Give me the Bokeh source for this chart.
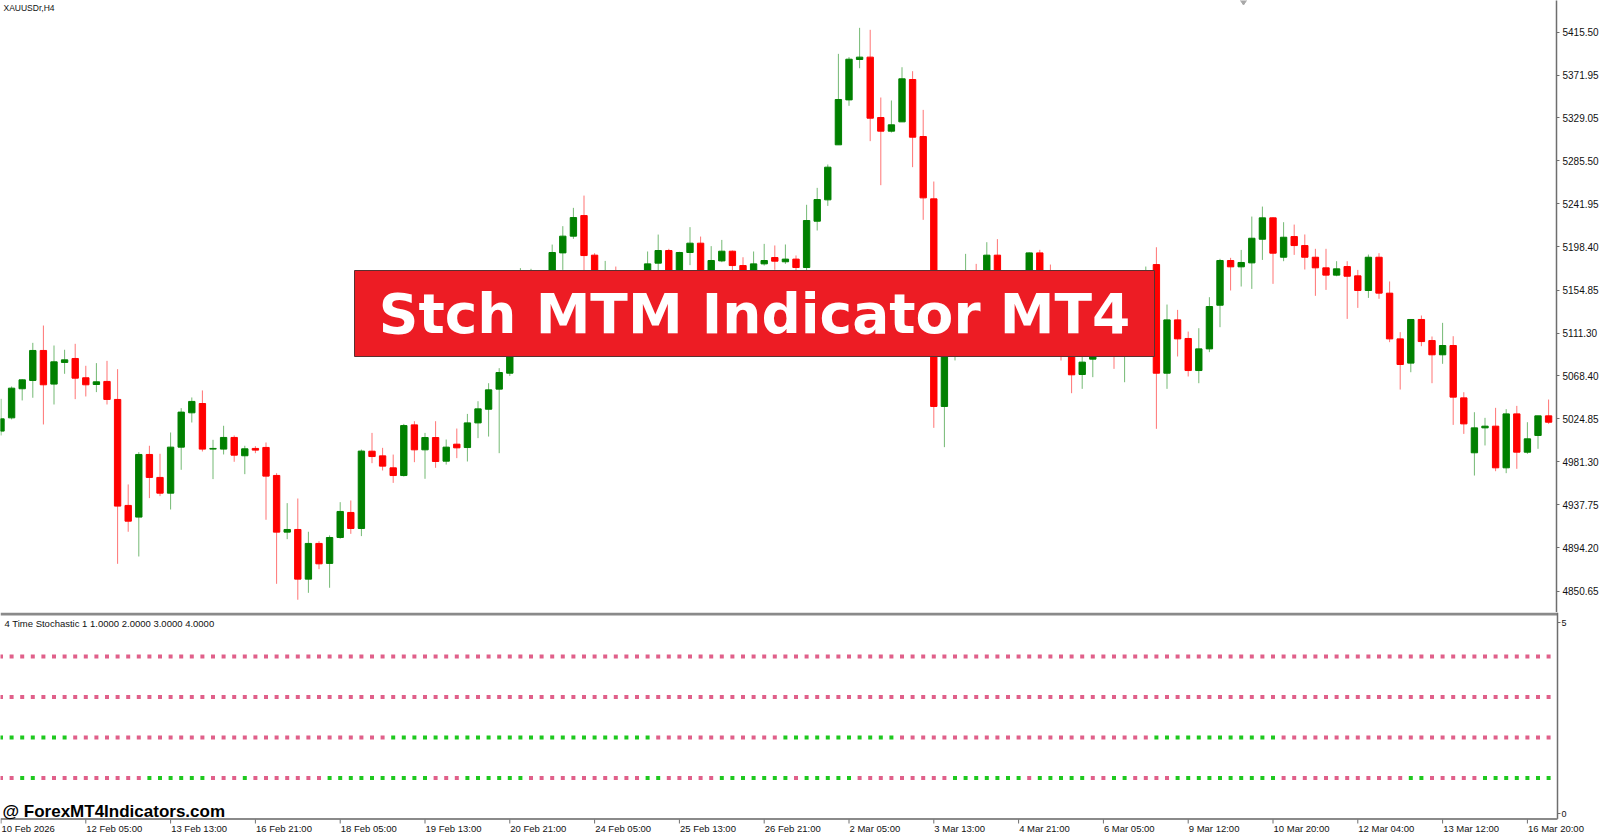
import numpy as np
from bokeh.plotting import figure
from bokeh.layouts import column
from bokeh.models import (Range1d, LinearAxis, FixedTicker, PrintfTickFormatter,
                          BoxAnnotation, Label, ColumnDataSource)
from bokeh.embed import file_html
from bokeh.resources import INLINE

# ---------------- data (XAUUSDr, H4) ----------------
opens = [5012.3, 5025.7, 5055.1, 5063.5, 5093.8, 5059.8, 5081.7, 5085.7, 5066.2, 5059.4,
         5062.5, 5044.3, 4937.2, 4925.4, 4988.7, 4965.5, 4949.6, 4996.1, 5030.8, 5040.2,
         4994.1, 4994.1, 5005.9, 4987.4, 4994.8, 4995.8, 4967.5, 4910.2, 4912.9, 4862.7,
         4898.8, 4878.6, 4904.8, 4930.1, 4913.9, 4992.0, 4987.3, 4975.2, 4967.4, 5018.6,
         4993.4, 5005.8, 4981.9, 4999.1, 4995.7, 5020.6, 5034.4, 5054.7, 5070.8, 5098.0,
         5150.0, 5160.0, 5158.0, 5192.4, 5209.3, 5230.1, 5190.1, 5165.0, 5172.0, 5160.0,
         5168.0, 5165.0, 5182.0, 5194.8, 5172.0, 5192.8, 5202.2, 5168.0, 5184.3, 5194.1,
         5179.6, 5174.0, 5181.3, 5187.7, 5183.4, 5186.1, 5177.6, 5224.4, 5246.0, 5301.6,
         5347.0, 5387.8, 5390.2, 5329.2, 5315.4, 5324.8, 5367.6, 5310.0, 5247.0, 5037.2,
         5102.0, 5125.0, 5165.0, 5160.0, 5190.1, 5168.0, 5160.0, 5170.0, 5192.4, 5170.0,
         5140.0, 5095.0, 5069.5, 5085.0, 5105.0, 5118.0, 5100.0, 5130.0, 5158.0, 5180.6,
         5070.8, 5124.7, 5105.9, 5073.5, 5095.4, 5139.5, 5184.7, 5178.3, 5182.3, 5206.2,
         5227.8, 5188.0, 5208.9, 5199.8, 5188.0, 5177.3, 5169.9, 5178.6, 5169.2, 5154.4,
         5188.0, 5151.7, 5105.5, 5081.0, 5125.1, 5103.8, 5089.4, 5098.8, 5045.9, 4990.4,
         5015.6, 5017.3, 4975.2, 5029.7, 4991.0, 5007.9, 5027.7]
highs = [5044.9, 5057.4, 5064.8, 5101.5, 5119.0, 5098.8, 5094.5, 5100.5, 5078.3, 5081.0,
         5083.3, 5074.9, 4958.4, 4991.1, 4997.5, 4989.4, 5010.9, 5035.5, 5046.3, 5053.4,
         5003.5, 5017.7, 5007.9, 4997.5, 4997.1, 5000.8, 4969.8, 4939.5, 4944.2, 4910.6,
         4901.1, 4906.9, 4940.5, 4942.2, 4993.7, 5010.5, 4995.4, 4988.6, 5019.6, 5022.3,
         5010.5, 5022.3, 5003.8, 5014.9, 5029.7, 5042.5, 5060.7, 5075.9, 5102.0, 5177.0,
         5176.3, 5172.0, 5200.8, 5219.4, 5237.9, 5250.3, 5192.1, 5184.3, 5178.6, 5174.0,
         5173.0, 5193.8, 5210.9, 5196.5, 5193.5, 5218.4, 5208.9, 5199.2, 5205.5, 5194.8,
         5188.0, 5193.8, 5201.5, 5199.9, 5200.9, 5189.8, 5241.0, 5258.1, 5281.7, 5393.5,
         5390.2, 5419.8, 5417.8, 5349.4, 5346.4, 5380.0, 5376.0, 5336.9, 5264.5, 5112.0,
         5140.0, 5191.4, 5181.3, 5203.2, 5206.3, 5174.0, 5174.0, 5193.0, 5195.5, 5180.6,
         5150.0, 5100.0, 5090.0, 5112.0, 5128.0, 5130.0, 5140.0, 5166.0, 5178.6, 5198.1,
         5140.2, 5134.8, 5112.9, 5116.3, 5147.6, 5186.4, 5187.4, 5195.4, 5229.1, 5239.2,
         5228.5, 5223.4, 5221.0, 5211.0, 5196.5, 5196.5, 5184.0, 5184.0, 5175.2, 5190.7,
         5192.1, 5163.5, 5112.3, 5125.1, 5129.1, 5107.9, 5121.7, 5108.2, 5051.6, 5031.4,
         5025.7, 5035.8, 5034.5, 5037.8, 5021.3, 5027.7, 5044.2]
lows = [5007.9, 5024.1, 5043.3, 5046.0, 5019.0, 5039.2, 5070.2, 5044.6, 5047.3, 5051.7,
        5039.2, 4878.2, 4910.6, 4885.6, 4944.6, 4946.6, 4933.1, 4973.2, 5021.0, 4991.7,
        4963.8, 4988.7, 4981.3, 4968.8, 4990.0, 4922.7, 4858.0, 4903.1, 4841.9, 4848.9,
        4872.8, 4854.0, 4903.5, 4908.5, 4906.2, 4979.9, 4972.5, 4960.0, 4966.4, 4980.9,
        4964.1, 4975.2, 4978.5, 4985.0, 4981.6, 5005.2, 5006.8, 4990.0, 5068.0, 5092.0,
        5135.0, 5140.0, 5150.0, 5175.2, 5206.6, 5170.0, 5150.0, 5155.0, 5145.0, 5150.0,
        5152.0, 5158.0, 5172.0, 5165.0, 5168.0, 5180.0, 5160.0, 5162.0, 5183.0, 5170.0,
        5165.0, 5168.0, 5179.6, 5175.3, 5181.3, 5172.0, 5172.0, 5215.0, 5239.9, 5301.6,
        5341.0, 5379.0, 5305.3, 5260.8, 5314.0, 5324.8, 5279.0, 5225.8, 5015.6, 4996.1,
        5083.7, 5118.0, 5140.0, 5152.0, 5160.0, 5150.0, 5148.0, 5165.0, 5160.0, 5130.0,
        5083.6, 5050.6, 5055.0, 5066.8, 5095.0, 5075.2, 5061.7, 5120.0, 5150.0, 5014.6,
        5055.0, 5087.7, 5067.5, 5060.7, 5092.1, 5117.3, 5154.4, 5158.4, 5156.0, 5185.3,
        5161.1, 5184.0, 5190.4, 5175.6, 5149.0, 5155.0, 5168.8, 5125.7, 5136.8, 5146.9,
        5146.0, 5102.2, 5054.3, 5071.8, 5098.1, 5060.7, 5080.3, 5018.6, 5009.5, 4967.4,
        4997.8, 4971.8, 4969.8, 4974.2, 4989.3, 4994.4, 5019.6]
closes = [5024.7, 5055.7, 5064.1, 5093.8, 5059.1, 5082.3, 5084.3, 5065.8, 5059.1, 5062.1,
          5044.3, 4936.5, 4921.3, 4988.7, 4965.5, 4949.6, 4996.1, 5031.5, 5042.3, 4994.1,
          4994.8, 5005.9, 4988.0, 4994.4, 4993.1, 4966.8, 4910.2, 4912.9, 4862.7, 4898.8,
          4878.2, 4904.8, 4931.1, 4913.9, 4992.1, 4986.6, 4976.9, 4967.4, 5017.9, 4993.4,
          5005.8, 4981.6, 4996.1, 4995.4, 5020.6, 5034.8, 5054.0, 5071.5, 5098.0, 5150.0,
          5160.0, 5158.0, 5192.8, 5209.3, 5228.1, 5189.7, 5165.0, 5172.0, 5160.0, 5168.0,
          5165.0, 5181.3, 5194.8, 5172.0, 5192.8, 5202.2, 5168.0, 5184.7, 5194.1, 5179.6,
          5174.0, 5181.3, 5184.7, 5184.0, 5186.1, 5177.6, 5225.1, 5246.3, 5279.0, 5347.4,
          5388.1, 5390.2, 5328.5, 5315.4, 5321.8, 5368.3, 5309.3, 5248.0, 5037.2, 5102.0,
          5125.0, 5165.0, 5160.0, 5190.1, 5168.0, 5160.0, 5170.0, 5192.4, 5170.0, 5140.0,
          5095.0, 5069.2, 5082.0, 5105.0, 5118.0, 5100.0, 5130.0, 5158.0, 5172.0, 5070.8,
          5124.7, 5105.5, 5073.5, 5095.4, 5138.2, 5184.7, 5178.3, 5182.7, 5207.2, 5227.8,
          5192.1, 5208.2, 5199.8, 5188.0, 5177.3, 5169.9, 5176.3, 5168.8, 5154.4, 5188.0,
          5151.7, 5105.5, 5079.6, 5125.1, 5102.8, 5089.4, 5098.8, 5046.6, 5019.6, 5015.6,
          5017.3, 4975.2, 5029.7, 4991.0, 5004.5, 5027.7, 5021.3]

price_ticks = [5415.50, 5371.95, 5329.05, 5285.50, 5241.95, 5198.40, 5154.85,
               5111.30, 5068.40, 5024.85, 4981.30, 4937.75, 4894.20, 4850.65]

date_tick_bars = [0, 8, 16, 24, 32, 40, 48, 56, 64, 72, 80, 88, 96, 104, 112, 120, 128, 136, 144]
date_labels = ["10 Feb 2026", "12 Feb 05:00", "13 Feb 13:00", "16 Feb 21:00", "18 Feb 05:00",
               "19 Feb 13:00", "20 Feb 21:00", "24 Feb 05:00", "25 Feb 13:00", "26 Feb 21:00",
               "2 Mar 05:00", "3 Mar 13:00", "4 Mar 21:00", "6 Mar 05:00", "9 Mar 12:00",
               "10 Mar 20:00", "12 Mar 04:00", "13 Mar 12:00", "16 Mar 20:00"]

# indicator: 4 rows (levels 4,3,2,1), runs of bars shown green (rest pink)
row_levels = [4, 3, 2, 1]
indicator_scale_labels = ["5", "0"]
green_runs_row4 = []
green_runs_row3 = []
green_runs_row2 = [(0, 6), (37, 61), (74, 84), (109, 120)]
green_runs_row1 = [(2, 3), (14, 19), (23, 23), (31, 40), (44, 49), (61, 62), (68, 74),
                   (76, 80), (90, 96), (98, 102), (105, 106), (111, 120), (133, 134), (140, 146)]

# ---------------- styling ----------------
UP = "#008000"
DN = "#FF0000"
PINK = "#E0608A"
LIME = "#1EC81E"
AXIS = "#6e6e6e"
SEP = "#8a8a8a"
FONT = "Liberation Sans"

n = len(opens)
o = np.array(opens); h = np.array(highs); l = np.array(lows); c = np.array(closes)
idx = np.arange(n)

# reference-pixel helpers for placing decorations
def bx(xref):
    return (xref - 0.5) / 10.6

def py(yref):
    return 5415.5 - (yref - 31.6) * 1.0105

def vy(yref):
    return (818.0 - yref) / 40.5

# ---------------- main price panel ----------------
p = figure(frame_width=1556, frame_height=612,
           x_range=Range1d(bx(0), bx(1556)), y_range=Range1d(py(612), py(0)),
           output_backend="svg", toolbar_location=None, x_axis_location=None,
           y_axis_location=None, min_border_left=0, min_border_right=44,
           min_border_top=0, min_border_bottom=0)
p.outline_line_color = None
p.background_fill_color = "white"
p.border_fill_color = "white"
p.grid.visible = False

for mask, col in ((c >= o, UP), (c < o, DN)):
    src = ColumnDataSource(dict(x=idx[mask], hi=h[mask], lo=l[mask],
                                top=np.maximum(o, c)[mask], bot=np.minimum(o, c)[mask]))
    p.segment(x0="x", y0="lo", x1="x", y1="hi", source=src, line_color=col,
              line_width=1, line_alpha=0.55)
    p.vbar(x="x", width=0.6, top="top", bottom="bot", source=src, fill_color=col,
           line_color=col, line_width=1)

# small shift marker at the top
p.scatter(x=[bx(1243)], y=[py(0)], marker="diamond", size=9, color="#a8a8a8")

ax = LinearAxis(ticker=FixedTicker(ticks=price_ticks),
                formatter=PrintfTickFormatter(format="%.2f"))
ax.axis_line_color = AXIS
ax.axis_line_width = 1.5
ax.major_tick_line_color = AXIS
ax.major_tick_out = 3
ax.major_tick_in = 0
ax.minor_tick_out = 0
ax.minor_tick_in = 0
ax.major_label_standoff = 3
ax.major_label_text_font = FONT
ax.major_label_text_font_size = "10px"
ax.major_label_text_color = "#111111"
p.add_layout(ax, "right")

p.add_layout(Label(x=bx(3), y=py(2), text="XAUUSDr,H4", text_font=FONT,
                   text_font_size="8.5px", text_color="#111111",
                   text_align="left", text_baseline="top"))

banner = BoxAnnotation(left=bx(354), right=bx(1154), top=py(270), bottom=py(356),
                       fill_color="#ED1C24", fill_alpha=1.0, line_color="#5a3030",
                       line_width=1, line_alpha=1.0, level="annotation")
p.add_layout(banner)
p.add_layout(Label(x=bx(754), y=py(313), text="Stch MTM Indicator MT4",
                   text_font="DejaVu Sans", text_font_style="bold", text_font_size="55px",
                   text_color="white", text_align="center", text_baseline="middle"))

# ---------------- indicator panel + time strip ----------------
q = figure(frame_width=1600, frame_height=222,
           x_range=Range1d(bx(0), bx(1600)), y_range=Range1d(vy(834), vy(612)),
           output_backend="svg", toolbar_location=None, x_axis_location=None,
           y_axis_location=None, min_border_left=0, min_border_right=0,
           min_border_top=0, min_border_bottom=0)
q.outline_line_color = None
q.background_fill_color = "white"
q.border_fill_color = "white"
q.grid.visible = False

runs_by_level = {4: green_runs_row4, 3: green_runs_row3, 2: green_runs_row2, 1: green_runs_row1}
xs, ys, cols = [], [], []
for lev in row_levels:
    gset = set()
    for a, b in runs_by_level[lev]:
        gset.update(range(a, b + 1))
    for i in range(n):
        xs.append(i); ys.append(lev); cols.append(LIME if i in gset else PINK)
q.scatter(x=xs, y=ys, color=cols, marker="square", size=4, line_width=0)

# panel separator, right scale line and time axis line
q.segment(x0=[bx(0)], y0=[vy(613.5)], x1=[bx(1557)], y1=[vy(613.5)], line_color=SEP, line_width=3)
q.segment(x0=[bx(1557)], y0=[vy(612)], x1=[bx(1557)], y1=[vy(818.5)], line_color=AXIS, line_width=1.5)
q.segment(x0=[bx(0)], y0=[vy(818.5)], x1=[bx(1557)], y1=[vy(818.5)], line_color=SEP, line_width=2)

# indicator scale labels 5 / 0 (kept inside the window as MT4 does)
scale_y = [vy(622), vy(813)]
q.segment(x0=[bx(1557)] * 2, y0=scale_y, x1=[bx(1560)] * 2, y1=scale_y,
          line_color=AXIS, line_width=1)
for t, yv in zip(indicator_scale_labels, scale_y):
    q.add_layout(Label(x=bx(1561), y=yv, text=t, text_font=FONT, text_font_size="9px",
                       text_color="#111111", text_align="left", text_baseline="middle"))

# time axis ticks and labels
q.segment(x0=date_tick_bars, y0=[vy(819)] * len(date_tick_bars), x1=date_tick_bars,
          y1=[vy(823)] * len(date_tick_bars), line_color=AXIS, line_width=1)
for b, t in zip(date_tick_bars, date_labels):
    q.add_layout(Label(x=b + 0.05, y=vy(827.5), text=t, text_font=FONT, text_font_size="9.5px",
                       text_color="#111111", text_align="left", text_baseline="middle"))

q.add_layout(Label(x=bx(4), y=vy(623), text="4 Time Stochastic 1 1.0000 2.0000 3.0000 4.0000",
                   text_font=FONT, text_font_size="9.5px", text_color="#111111",
                   text_align="left", text_baseline="middle"))
q.add_layout(Label(x=bx(2), y=vy(810.5), text="@ ForexMT4Indicators.com",
                   text_font=FONT, text_font_style="bold", text_font_size="17px",
                   text_color="#000000", text_align="left", text_baseline="middle"))

layout = column(p, q, spacing=0)
open("out.html", "w").write(file_html(layout, INLINE))
